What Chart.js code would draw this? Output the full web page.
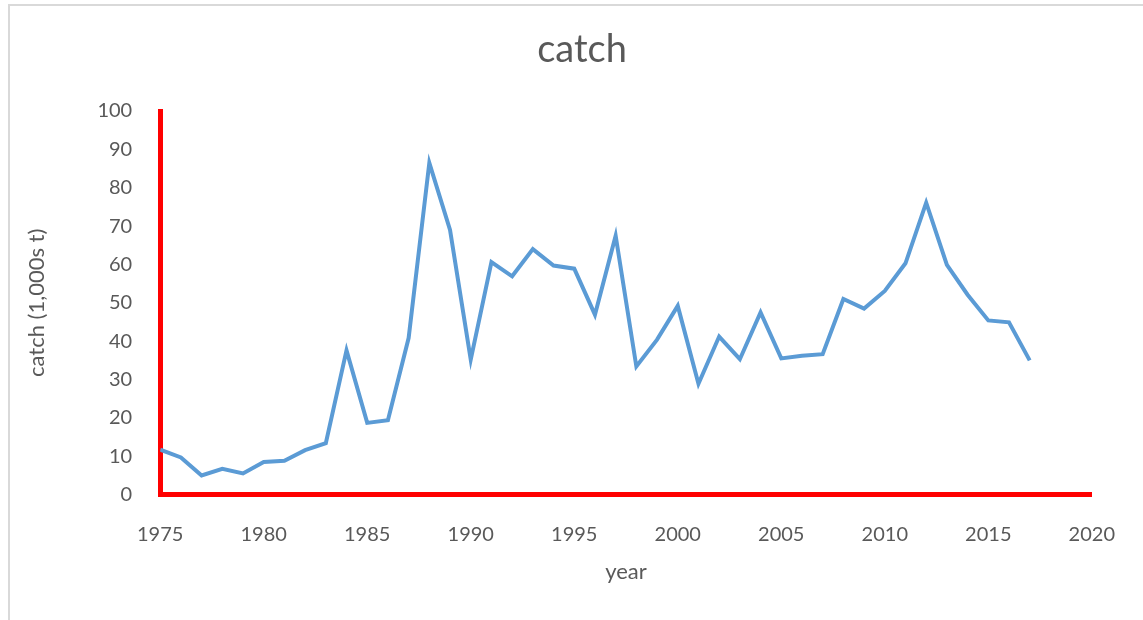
<!DOCTYPE html>
<html>
<head>
<meta charset="utf-8">
<script src="https://cdn.jsdelivr.net/npm/chart.js@4/dist/chart.umd.min.js"></script>
<style>
    body { margin: 0; background: #ffffff; }
    .marco {
        position: absolute; left: 8px; top: 4px; width: 1140px; height: 630px;
        border: 2px solid #d9d9d9; box-sizing: border-box;
    }
    .contenedor { position: absolute; left: 0; top: 0; width: 1143px; height: 620px; }
</style>
</head>
<body>
<div class="marco"></div>
<div class="contenedor"><canvas id="grafica"></canvas></div>
<script>
// Datos de capturas por año
const years = [1975, 1976, 1977, 1978, 1979, 1980, 1981, 1982, 1983, 1984,
    1985, 1986, 1987, 1988, 1989, 1990, 1991, 1992, 1993, 1994,
    1995, 1996, 1997, 1998, 1999, 2000, 2001, 2002, 2003, 2004,
    2005, 2006, 2007, 2008, 2009, 2010, 2011, 2012, 2013, 2014,
    2015, 2016, 2017];
const catchValues = [11.7, 9.7, 5.0, 6.7, 5.5, 8.5, 8.8, 11.6, 13.4, 37.6,
    18.7, 19.4, 40.8, 86.5, 69.0, 35.2, 60.6, 56.9, 64.0, 59.7,
    58.9, 46.9, 67.5, 33.4, 40.4, 49.2, 28.9, 41.2, 35.3, 47.5,
    35.5, 36.2, 36.6, 51.0, 48.5, 53.1, 60.3, 76.1, 59.9, 52.1,
    45.4, 44.9, 35.0];
const xTicks = [1975, 1980, 1985, 1990, 1995, 2000, 2005, 2010, 2015, 2020];
const yTicks = [0, 10, 20, 30, 40, 50, 60, 70, 80, 90, 100];

const puntos = years.map((y, i) => ({ x: y, y: catchValues[i] }));
const fuente = "Lato, 'Open Sans', sans-serif";
const gris = "#595959";

// Titulo dibujado a mano para poder centrarlo como en el original
const tituloPlugin = {
    id: "tituloPlugin",
    afterDraw(chart) {
        const c = chart.ctx;
        c.save();
        c.fillStyle = gris;
        c.font = "38px " + fuente;
        c.textAlign = "center";
        c.textBaseline = "middle";
        c.fillText("catch", 582, 50);
        c.restore();
    },
};

const ctx = document.getElementById("grafica").getContext("2d");
new Chart(ctx, {
    type: "line",
    data: {
        datasets: [
            {
                label: "catch",
                data: puntos,
                borderColor: "#5b9bd5",
                borderWidth: 4,
                pointRadius: 0,
                tension: 0,
                fill: false,
            },
        ],
    },
    options: {
        responsive: true,
        maintainAspectRatio: false,
        animation: false,
        layout: { padding: { left: 20, right: 36, top: 111, bottom: 35 } },
        plugins: {
            legend: { display: false },
            tooltip: { enabled: false },
            title: { display: false },
        },
        scales: {
            x: {
                type: "linear",
                min: 1975,
                max: 2020,
                afterBuildTicks: (axis) => { axis.ticks = xTicks.map((v) => ({ value: v })); },
                grid: { display: false, drawTicks: false },
                border: { display: true, color: "#ff0000", width: 5 },
                ticks: {
                    color: gris,
                    font: { family: fuente, size: 20 },
                    padding: 28,
                    maxRotation: 0,
                    callback: (v) => String(v),
                },
                title: {
                    display: true,
                    text: "year",
                    color: gris,
                    font: { family: fuente, size: 22 },
                    padding: { top: -16, bottom: 0 },
                },
            },
            y: {
                min: 0,
                max: 100,
                afterBuildTicks: (axis) => { axis.ticks = yTicks.map((v) => ({ value: v })); },
                grid: { display: false, drawTicks: false },
                border: { display: true, color: "#ff0000", width: 5 },
                ticks: {
                    color: gris,
                    font: { family: fuente, size: 20 },
                    padding: 28,
                },
                title: {
                    display: true,
                    text: "catch (1,000s t)",
                    color: gris,
                    font: { family: fuente, size: 22 },
                    padding: { bottom: 19 },
                },
            },
        },
    },
    plugins: [tituloPlugin],
});
</script>
</body>
</html>
